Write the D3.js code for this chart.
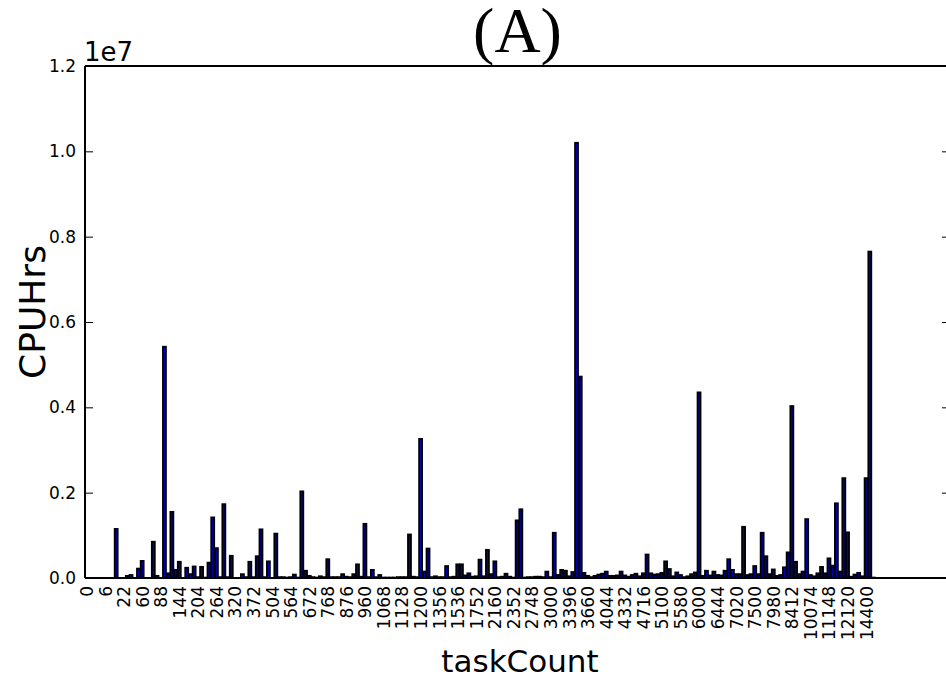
<!DOCTYPE html>
<html>
<head>
<meta charset="utf-8">
<script src="https://cdn.jsdelivr.net/npm/d3@7"></script>
<style>
  html, body { margin: 0; padding: 0; background: #fff; }
  svg { display: block; }
</style>
</head>
<body>
<div id="chart"></div>
<script>
// ---- data ----
const tickLabels = ["0","6","22","60","88","144","204","264","320","372","504","564","672","768","876","960","1068","1128","1200","1356","1536","1752","2160","2352","2748","3000","3396","3660","4044","4332","4716","5100","5580","6000","6444","7020","7500","7980","8412","10074","11148","12120","14400"];
// CPU hours per bar, in millions (1e6)
const cpuHrsMillions = [
  0, 0, 0, 0, 0, 0, 0, 0, 1.15, 0,
  0, 0.05, 0.07, 0, 0.22, 0.40, 0, 0, 0.85, 0.05,
  0, 5.42, 0.11, 1.55, 0.19, 0.38, 0, 0.24, 0.09, 0.27,
  0.02, 0.26, 0.01, 0.36, 1.42, 0.70, 0.02, 1.73, 0.02, 0.52,
  0, 0, 0.09, 0.02, 0.38, 0.02, 0.51, 1.14, 0.02, 0.39,
  0, 1.04, 0.02, 0.02, 0.01, 0.02, 0.08, 0.01, 2.03, 0.17,
  0.05, 0.02, 0.01, 0.04, 0.02, 0.44, 0.02, 0.02, 0.02, 0.09,
  0.03, 0.02, 0.09, 0.32, 0.03, 1.27, 0.02, 0.19, 0.02, 0.07,
  0.01, 0.01, 0.01, 0.01, 0.02, 0.02, 0.02, 1.02, 0.03, 0.02,
  3.26, 0.15, 0.69, 0.02, 0.04, 0.02, 0.02, 0.28, 0.02, 0.03,
  0.32, 0.32, 0.06, 0.11, 0.03, 0.04, 0.43, 0.04, 0.66, 0.09,
  0.39, 0.02, 0.03, 0.10, 0.03, 0.01, 1.35, 1.61, 0.01, 0.02,
  0.02, 0.03, 0.03, 0.02, 0.15, 0.02, 1.06, 0.07, 0.19, 0.17,
  0.04, 0.14, 10.2, 4.72, 0.12, 0.05, 0.02, 0.05, 0.08, 0.10,
  0.15, 0.05, 0.05, 0.06, 0.15, 0.06, 0.03, 0.07, 0.10, 0.04,
  0.11, 0.55, 0.11, 0.08, 0.09, 0.12, 0.39, 0.21, 0.04, 0.13,
  0.07, 0.02, 0.04, 0.09, 0.13, 4.35, 0.05, 0.17, 0.06, 0.15,
  0.07, 0.06, 0.17, 0.44, 0.19, 0.09, 0.09, 1.20, 0.07, 0.09,
  0.28, 0.09, 1.06, 0.51, 0.09, 0.20, 0.05, 0.07, 0.25, 0.60,
  4.03, 0.38, 0.09, 0.15, 1.38, 0.07, 0.04, 0.11, 0.26, 0.11,
  0.46, 0.29, 1.75, 0.15, 2.34, 1.07, 0.03, 0.08, 0.12, 0.04,
  2.34, 7.65, 0.01
];
const yTickValues = [0, 0.2e7, 0.4e7, 0.6e7, 0.8e7, 1.0e7, 1.2e7];
const labelEvery = 5;
const xMax = 233;
const yMax = 1.2e7;

// ---- layout ----
const W = 946, H = 681;
const L = 85, R = 950, T = 66, B = 578;
const barW = 0.8;

const svg = d3.select("#chart").append("svg")
  .attr("width", W).attr("height", H)
  .style("font-family", "'DejaVu Sans', sans-serif");

const x = d3.scaleLinear().domain([0, xMax]).range([L, R]);
const y = d3.scaleLinear().domain([0, yMax]).range([B, T]);

// bars
svg.append("g").selectAll("rect")
  .data(cpuHrsMillions)
  .join("rect")
  .attr("x", (d, i) => x(i))
  .attr("width", x(barW) - x(0))
  .attr("y", d => y(d * 1e6))
  .attr("height", d => y(0) - y(d * 1e6))
  .attr("fill", "#0000b0")
  .attr("stroke", "#000")
  .attr("stroke-width", 1.8);

// y axis (left, inward ticks)
const yAxis = d3.axisLeft(y).tickValues(yTickValues)
  .tickSize(-8).tickPadding(9)
  .tickFormat(d => (d / 1e7).toFixed(1));
const gy = svg.append("g").attr("transform", `translate(${L},0)`).call(yAxis);
gy.select(".domain").remove();
gy.selectAll("line").attr("stroke", "#000").attr("stroke-width", 1);
gy.selectAll("text").attr("font-size", 17).attr("fill", "#000")
  .style("font-family", "'DejaVu Sans', sans-serif");

// right inward ticks
const yAxisR = d3.axisRight(y).tickValues(yTickValues).tickSize(-8).tickFormat("");
const gyr = svg.append("g").attr("transform", `translate(${R},0)`).call(yAxisR);
gyr.select(".domain").remove();
gyr.selectAll("line").attr("stroke", "#000").attr("stroke-width", 1);

// x axis labels
const xTickIdx = tickLabels.map((_, k) => k * labelEvery);
const xAxis = d3.axisBottom(x)
  .tickValues(xTickIdx.map(i => i + barW / 2))
  .tickSize(0).tickPadding(0)
  .tickFormat((d, k) => tickLabels[k]);
const gx = svg.append("g").attr("transform", `translate(0,${B})`).call(xAxis);
gx.select(".domain").remove();
gx.selectAll("text")
  .attr("font-size", 17).attr("fill", "#000")
  .style("font-family", "'DejaVu Sans', sans-serif")
  .attr("transform", "rotate(-90)")
  .attr("x", -8).attr("y", 0).attr("dy", "0.35em")
  .style("text-anchor", "end");

// spines
const sp = svg.append("g").attr("stroke", "#000").attr("stroke-width", 2).attr("fill", "none");
sp.append("line").attr("x1", L).attr("x2", L).attr("y1", T).attr("y2", B);
sp.append("line").attr("x1", L).attr("x2", R).attr("y1", B).attr("y2", B);
sp.append("line").attr("x1", L).attr("x2", R).attr("y1", T).attr("y2", T);
sp.append("line").attr("x1", R).attr("x2", R).attr("y1", T).attr("y2", B);

// offset text
svg.append("text").attr("x", L - 1).attr("y", 61)
  .attr("font-size", 26).attr("fill", "#000").text("1e7");

// title
svg.append("text").attr("x", (L + R) / 2).attr("y", 52)
  .attr("text-anchor", "middle")
  .style("font-family", "'Liberation Serif', 'Times New Roman', serif")
  .attr("font-size", 64).attr("fill", "#000").text("(A)");

// axis labels
svg.append("text").attr("x", 520).attr("y", 672)
  .attr("text-anchor", "middle").attr("font-size", 31).attr("fill", "#000")
  .text("taskCount");
svg.append("text")
  .attr("transform", `translate(45,312) rotate(-90)`)
  .attr("text-anchor", "middle").attr("font-size", 36).attr("fill", "#000")
  .text("CPUHrs");
</script>
</body>
</html>
